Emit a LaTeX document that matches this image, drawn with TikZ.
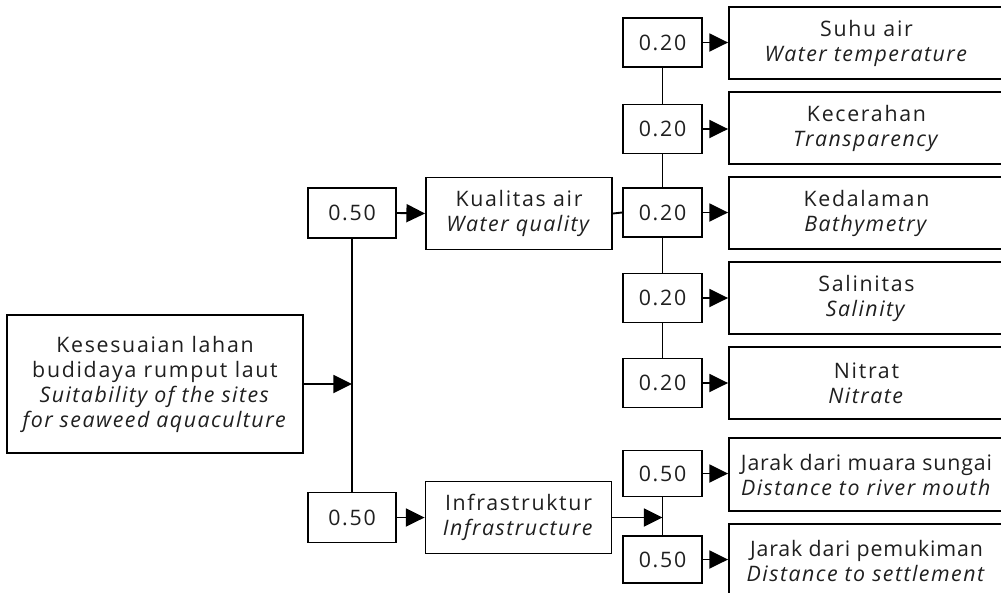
\documentclass[tikz,border=0pt]{standalone}
\usepackage{fontspec}
\setmainfont{Open Sans}[LetterSpace=8, ItalicFeatures={LetterSpace=7}]
\usetikzlibrary{arrows.meta}
\begin{document}
\begin{tikzpicture}[x=0.75pt,y=-0.75pt,
  every node/.style={font=\fontsize{16pt}{18.75pt}\selectfont, text=black!88, align=center, inner sep=0pt},
  box/.style={draw, line width=1.4pt},
  wbox/.style={box, minimum width=88*0.75pt, minimum height=50*0.75pt},
  sbox/.style={box, minimum width=79*0.75pt, minimum height=49*0.75pt},
  cbox/.style={box, minimum width=186*0.75pt, minimum height=72*0.75pt},
  rbox/.style={box, minimum width=275*0.75pt, minimum height=72*0.75pt},
  tight/.style={font=\fontsize{16pt}{18.75pt}\selectfont\addfontfeature{LetterSpace=4}},
  con/.style={line width=1.4pt},
  arr/.style={con, -{Triangle[length=14pt,width=13.5pt]}}
]
\useasboundingbox (0,0) rectangle (1001,593);
% main
\node[box, minimum width=296*0.75pt, minimum height=138*0.75pt] (main) at (155,384)
  {Kesesuaian lahan\\budidaya rumput laut\\\textit{Suitability of the sites}\\\textit{for seaweed aquaculture}};
\node[wbox] (w1) at (352,213) {0.50};
\node[wbox] (w2) at (352,517.5) {0.50};
\node[cbox] (kual) at (519,213.5) {Kualitas air\\\textit{Water quality}};
\node[cbox] (infra) at (518.5,517.5) {Infrastruktur\\\textit{Infrastructure}};
% water quality sub-criteria
\node[sbox] (s1) at (662.5,42.5) {0.20};
\node[sbox] (s2) at (662.5,129) {0.20};
\node[sbox] (s3) at (662.5,212.5) {0.20};
\node[sbox] (s4) at (662.5,298) {0.20};
\node[sbox] (s5) at (662.5,383) {0.20};
\node[rbox] (r1) at (866.5,43) {Suhu air\\\textit{Water temperature}};
\node[rbox] (r2) at (866.5,128) {Kecerahan\\\textit{Transparency}};
\node[rbox] (r3) at (866.5,213) {Kedalaman\\\textit{Bathymetry}};
\node[rbox] (r4) at (866.5,298) {Salinitas\\\textit{Salinity}};
\node[rbox] (r5) at (866.5,383) {Nitrat\\\textit{Nitrate}};
% infrastructure sub-criteria
\node[sbox, minimum height=46*0.75pt] (t1) at (662.5,473.5) {0.50};
\node[sbox, minimum height=47*0.75pt] (t2) at (662.5,559.5) {0.50};
\node[rbox, tight, minimum height=73*0.75pt] (q1) at (866.5,474.5) {Jarak dari muara sungai\\\textit{Distance to river mouth}};
\node[rbox, tight, minimum height=73*0.75pt] (q2) at (866.5,560.5) {Jarak dari pemukiman\\\textit{Distance to settlement}};
% connectors
\draw[con] (w1.south) -- (w2.north);
\coordinate (j1) at (w1.south |- main.east);
\draw[arr] (main.east) -- (j1);
\draw[arr] (w1.east) -- (kual.west);
\draw[arr] (w2.east) -- (infra.west);
\draw[con] (kual.east) -- (s3.west);
\draw[con] (s1.south) -- (s2.north);
\draw[con] (s2.south) -- (s3.north);
\draw[con] (s3.south) -- (s4.north);
\draw[con] (s4.south) -- (s5.north);
\foreach \i in {1,...,5} { \draw[arr] (s\i.east) -- (s\i.east -| r\i.west); }
\draw[con] (t1.south) -- (t2.north);
\coordinate (j2) at (t1.south |- infra.east);
\draw[arr] (infra.east) -- (j2);
\draw[arr] (t1.east) -- (t1.east -| q1.west);
\draw[arr] (t2.east) -- (t2.east -| q2.west);
\end{tikzpicture}
\end{document}
